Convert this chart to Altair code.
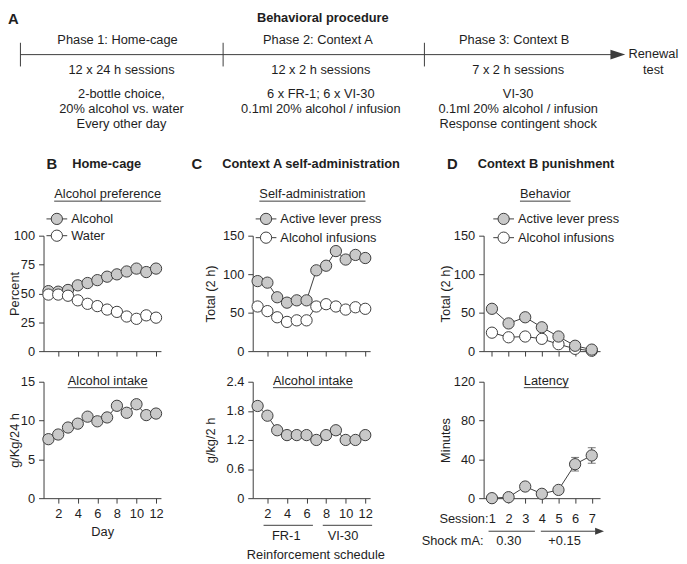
import altair as alt
import pandas as pd

FONT = "Liberation Sans"
INK = "#1e1e1e"
LINE = "#3c3c3c"
GRAY = "#c9c9c9"
WHITE = "#ffffff"
DOT = 130

# ---------------- data ----------------
days = list(range(1, 13))
pref_alcohol = [52, 51.5, 53, 57, 59, 61.5, 64.5, 66.5, 69, 71.5, 68.5, 71.5]
pref_water = [49, 49, 48, 44, 41, 39, 36, 34, 30, 28, 31, 29]
home_intake = [7.6, 8.2, 9.1, 9.6, 10.5, 9.9, 10.4, 11.9, 11.0, 12.1, 10.7, 10.9]

sa_sessions = list(range(1, 13))
sa_active = [91, 89, 70, 63, 66, 66, 105, 111, 130, 119, 125, 121]
sa_infusions = [58, 52, 44, 38, 40, 40, 58, 61, 58, 54, 57, 55]
sa_intake = [1.9, 1.7, 1.4, 1.3, 1.3, 1.3, 1.2, 1.3, 1.4, 1.2, 1.2, 1.3]

pun_sessions = list(range(1, 8))
pun_active = [55, 36, 44, 31, 19, 7, 2]
pun_infusions = [24, 18, 19, 16, 9, 3, 0.5]
pun_latency = [0, 1, 12, 4.5, 8.5, 35, 44]
pun_latency_err = [0, 0, 0, 0, 0, 7, 8]

ticks_12 = [2, 4, 6, 8, 10, 12]
ticks_7 = [1, 2, 3, 4, 5, 6, 7]
y_pref = [0, 25, 50, 75, 100]
y_home = [0, 5, 10, 15]
y_total = [0, 50, 100, 150]
y_sa_intake = [0, 0.6, 1.2, 1.8, 2.4]
y_latency = [0, 40, 80, 120]

# ---------------- text ----------------
phase_titles = ["Phase 1: Home-cage", "Phase 2: Context A", "Phase 3: Context B"]
phase_sessions = ["12 x 24 h sessions", "12 x 2 h sessions", "7 x 2 h sessions"]
phase_details = [
    ["2-bottle choice,", "20% alcohol vs. water", "Every other day"],
    ["6 x FR-1; 6 x VI-30", "0.1ml 20% alcohol / infusion"],
    ["VI-30", "0.1ml 20% alcohol / infusion", "Response contingent shock"],
]
UNDERLINE_W = {"Alcohol preference": 108.4, "Self-administration": 107.6,
               "Behavior": 51.3, "Alcohol intake": 80.9, "Latency": 45.5}

# ---------------- layout (px, relative to each panel's plot origin) ----------------
PLOT_W = 119
PLOT_W_D = 118
TOP_H = 117
BOT_H = 118
GAP = 31
CELL_W = [181, 203, 118]
BIG_HEAD = "M -1 -0.65 L 1 0 L -1 0.65 Z"
SMALL_HEAD = "M -1 -0.8 L 1 0 L -1 0.8 Z"
DEC_LABELS = "datum.value == 0 ? '0' : format(datum.value, '.1f')"


def one():
    return pd.DataFrame({"k": [0]})


def label(text, x, y, size=13, bold=False, align="center", baseline="middle"):
    return alt.Chart(pd.DataFrame({"t": [text]})).mark_text(
        font=FONT, fontSize=size, fontWeight="bold" if bold else "normal",
        color=INK, align=align, baseline=baseline
    ).encode(text="t:N", x=alt.value(x), y=alt.value(y))


def hrule(x1, x2, y):
    return alt.Chart(one()).mark_rule(color=LINE, strokeWidth=1).encode(
        x=alt.value(x1), x2=alt.value(x2), y=alt.value(y))


def vrule(x, y1, y2):
    return alt.Chart(one()).mark_rule(color=LINE, strokeWidth=1).encode(
        x=alt.value(x), y=alt.value(y1), y2=alt.value(y2))


def head(x, y, size, path):
    return alt.Chart(one()).mark_point(
        shape=path, filled=True, size=size, color=LINE, opacity=1, strokeWidth=0
    ).encode(x=alt.value(x), y=alt.value(y))


def marker(x, y, fill):
    return alt.Chart(one()).mark_circle(
        size=DOT, fill=fill, stroke=LINE, strokeWidth=1, opacity=1, fillOpacity=1
    ).encode(x=alt.value(x), y=alt.value(y))


def subtitle(text, cx, cy):
    w = UNDERLINE_W[text]
    return [label(text, cx, cy), hrule(cx - w / 2, cx + w / 2, cy + 7)]


def legend(entries, mx, rows):
    out = []
    for (name, fill), y in zip(entries, rows):
        out += [hrule(mx - 10.5, mx + 10.5, y), marker(mx, y, fill),
                label(name, mx + 14.5, y, align="left")]
    return out


def x_axis(values, labels, pad=5, title=None):
    opts = dict(values=values, labels=labels, grid=False, domainColor=LINE, domainWidth=1,
                tickColor=LINE, tickWidth=1, tickSize=5, labelFont=FONT, labelFontSize=13,
                labelColor=INK, labelPadding=pad, labelFlush=False, labelOverlap=False,
                format="d")
    if title is None:
        opts["title"] = None
    else:
        opts.update(title=title, titleFont=FONT, titleFontSize=13, titleFontWeight="normal",
                    titleColor=INK, titlePadding=5)
    return alt.Axis(**opts)


def y_axis(values, title, title_x, height, decimals=False):
    opts = dict(values=values, grid=False, domainColor=LINE, domainWidth=1,
                tickColor=LINE, tickWidth=1, tickSize=5, labelFont=FONT,
                labelFontSize=13, labelColor=INK, labelPadding=4, labelOverlap=False,
                title=title, titleFont=FONT, titleFontSize=13,
                titleFontWeight="normal", titleColor=INK, titleX=title_x,
                titleY=height / 2, titleAngle=270, titleBaseline="middle",
                titleAlign="center")
    if decimals:
        opts["labelExpr"] = DEC_LABELS
    else:
        opts["format"] = "d"
    return alt.Axis(**opts)


def data_layers(xs, series, x_dom, x_px, y_dom, x_ax, y_ax, err=None):
    rows = []
    for order, (name, vals, fill) in enumerate(series):
        for xv, yv in zip(xs, vals):
            rows.append(dict(x=xv, y=yv, s=name, f=fill, o=order))
    df = pd.DataFrame(rows)
    xs_scale = alt.Scale(domain=x_dom, range=[0, x_px], nice=False, zero=False)
    ys_scale = alt.Scale(domain=y_dom, nice=False, zero=False)
    X = alt.X("x:Q", scale=xs_scale, axis=x_ax)
    Y = alt.Y("y:Q", scale=ys_scale, axis=y_ax)
    layers = [alt.Chart(df).mark_line(color=LINE, strokeWidth=1).encode(x=X, y=Y, detail="s:N")]
    if err is not None:
        vals, errs = err
        edf = pd.DataFrame([dict(x=a, lo=v - e, hi=v + e) for a, v, e in zip(xs, vals, errs) if e > 0])
        layers.append(alt.Chart(edf).mark_rule(color=LINE, strokeWidth=1).encode(
            x=X, y=alt.Y("lo:Q", scale=ys_scale, axis=y_ax), y2="hi:Q"))
        for fld in ["lo", "hi"]:
            layers.append(alt.Chart(edf).mark_tick(color=LINE, orient="horizontal", size=8, thickness=1).encode(
                x=X, y=alt.Y(f"{fld}:Q", scale=ys_scale, axis=y_ax)))
    layers.append(alt.Chart(df).mark_circle(
        size=DOT, stroke=LINE, strokeWidth=1, opacity=1, fillOpacity=1
    ).encode(x=X, y=Y, fill=alt.Fill("f:N", scale=None), order=alt.Order("o:Q")))
    return layers


# ---------------- section A (drawn above panel B) ----------------
BOUNDS = [-23.4, 182, 386]
LINE_Y = -183.5
TITLE_X = [75, 278, 477]
TEXT_X = [79, 281, 481]
DETAIL_Y = [-144, -128.5, -113]


def section_a():
    out = [label("A", -36, -227, size=15, bold=True, align="left", baseline="top"),
           label("Behavioral procedure", 283, -227, bold=True, baseline="top"),
           hrule(BOUNDS[0], 577, LINE_Y),
           head(582, LINE_Y, 225, BIG_HEAD),
           label("Renewal", 618, LINE_Y - 1),
           label("test", 618, -168)]
    for bx in BOUNDS:
        out.append(vrule(bx, LINE_Y - 12, LINE_Y + 12))
    for i in range(3):
        out.append(label(phase_titles[i], TITLE_X[i], -198))
        out.append(label(phase_sessions[i], TEXT_X[i], -168))
        for j, line in enumerate(phase_details[i]):
            out.append(label(line, TEXT_X[i], DETAIL_Y[j]))
    return out


# ---------------- panel B ----------------
b_top = alt.layer(
    *data_layers(days, [("Alcohol", pref_alcohol, GRAY), ("Water", pref_water, WHITE)],
                 [0.5, 12.5], PLOT_W, [0, 100], x_axis(ticks_12, False),
                 y_axis(y_pref, "Percent", -29.5, TOP_H)),
    label("B", 3, -72.5, size=15, bold=True, align="left"),
    label("Home-cage", 29, -72.5, bold=True, align="left"),
    *subtitle("Alcohol preference", 65, -42),
    *legend([("Alcohol", GRAY), ("Water", WHITE)], 13.5, [-17, 0]),
    *section_a(),
).properties(width=CELL_W[0], height=TOP_H)

b_bot = alt.layer(
    *data_layers(days, [("Alcohol", home_intake, GRAY)], [0.5, 12.5], PLOT_W, [0, 15],
                 x_axis(ticks_12, True, title="Day"),
                 y_axis(y_home, "g/Kg/24 h", -29.5, BOT_H)),
    *subtitle("Alcohol intake", 65, -1),
).properties(width=CELL_W[0], height=BOT_H)

# ---------------- panel C ----------------
c_top = alt.layer(
    *data_layers(sa_sessions, [("Alcohol infusions", sa_infusions, WHITE),
                               ("Active lever press", sa_active, GRAY)],
                 [0.5, 12.5], PLOT_W, [0, 150], x_axis(ticks_12, False),
                 y_axis(y_total, "Total (2 h)", -43, TOP_H)),
    label("C", -62, -72.5, size=15, bold=True, align="left"),
    label("Context A self-administration", -31, -72.5, bold=True, align="left"),
    *subtitle("Self-administration", 60.5, -42),
    *legend([("Active lever press", GRAY), ("Alcohol infusions", WHITE)], 13.5, [-17, 2]),
).properties(width=CELL_W[1], height=TOP_H)

c_bot = alt.layer(
    *data_layers(sa_sessions, [("Alcohol", sa_intake, GRAY)], [0.5, 12.5], PLOT_W, [0, 2.4],
                 x_axis(ticks_12, True),
                 y_axis(y_sa_intake, "g/kg/2 h", -43, BOT_H, decimals=True)),
    *subtitle("Alcohol intake", 61, -1),
    hrule(11, 61, 145.5), hrule(71, 121, 145.5),
    label("FR-1", 34, 156.5), label("VI-30", 91.5, 156.5),
    label("Reinforcement schedule", 64, 175.5),
).properties(width=CELL_W[1], height=BOT_H)

# ---------------- panel D ----------------
d_top = alt.layer(
    *data_layers(pun_sessions, [("Alcohol infusions", pun_infusions, WHITE),
                                ("Active lever press", pun_active, GRAY)],
                 [0.5, 7.5], PLOT_W_D, [0, 150], x_axis(ticks_7, False),
                 y_axis(y_total, "Total (2 h)", -38.5, TOP_H)),
    label("D", -37, -72.5, size=15, bold=True, align="left"),
    label("Context B punishment", -6, -72.5, bold=True, align="left"),
    *subtitle("Behavior", 62.5, -42),
    *legend([("Active lever press", GRAY), ("Alcohol infusions", WHITE)], 20.3, [-17, 2]),
).properties(width=CELL_W[2], height=TOP_H)

d_bot = alt.layer(
    *data_layers(pun_sessions, [("Latency", pun_latency, GRAY)], [0.5, 7.5], PLOT_W_D,
                 [0, 120], x_axis(ticks_7, True, pad=10),
                 y_axis(y_latency, "Minutes", -38.5, BOT_H),
                 err=(pun_latency, pun_latency_err)),
    *subtitle("Latency", 63.5, -1),
    label("Session:", 5, 139, align="right"),
    hrule(5, 52, 151.5), hrule(58, 113, 151.5),
    head(117.5, 151.5, 81, SMALL_HEAD),
    label("Shock mA:", 0, 161, align="right"),
    label("0.30", 25.5, 161), label("+0.15", 82, 161),
).properties(width=CELL_W[2], height=BOT_H)

chart = alt.concat(
    b_top, c_top, d_top, b_bot, c_bot, d_bot,
    columns=3, spacing=GAP, bounds="flush", align="each",
).properties(padding=0).configure_view(strokeWidth=0)

chart.save("out.html", embed_options={"renderer": "svg", "actions": False})
